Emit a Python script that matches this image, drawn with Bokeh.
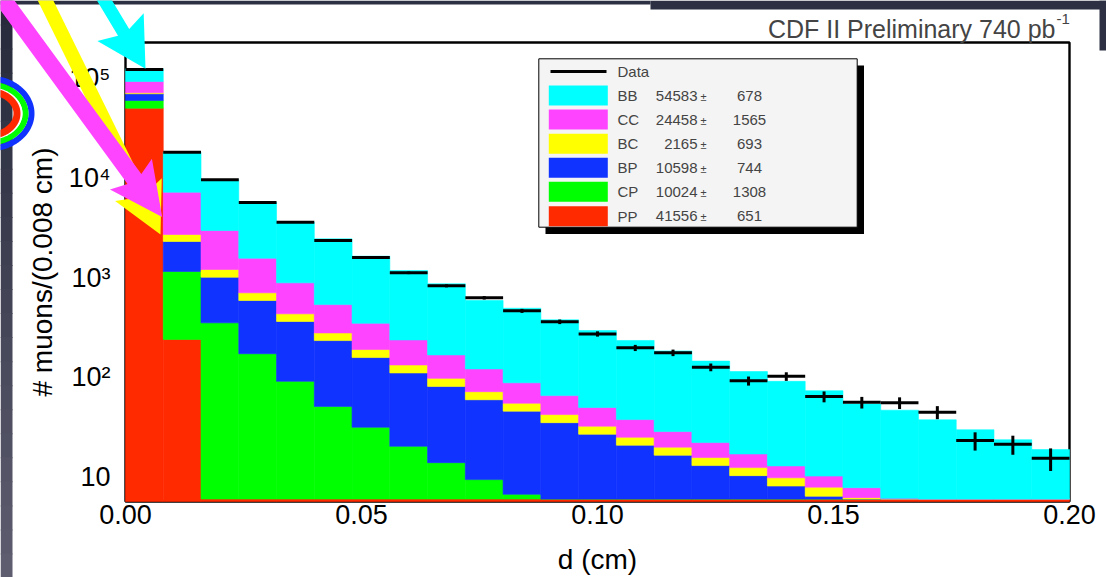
import numpy as np
from bokeh.plotting import figure
from bokeh.models import (Range1d, FixedTicker, NumeralTickFormatter, CustomJSTickFormatter,
                          BoxAnnotation, PolyAnnotation, Label)
from bokeh.embed import file_html
from bokeh.resources import INLINE

# ---------------- data ----------------
BIN_WIDTH = 0.008          # cm, from the axis title
N_BINS = 25
# stacked components, bottom -> top
pp = [49900, 239, 6, 6, 6, 6, 6, 6, 6, 6, 6, 6, 6, 6, 6, 6, 6, 6, 6, 6, 6, 6, 6, 6, 6]
cp = [9700, 910, 345, 166, 85, 45, 25.5, 14.3, 7.9, 3.4, 0.7, 0, 0, 0, 0, 0, 0, 0, 0, 0, 0, 0, 0, 0, 0]
bp = [10000, 1148, 656, 416, 271, 182, 126, 90, 67, 50, 39, 29, 20.8, 14.8, 10.5, 7.0, 4.3, 2.1, 0.4,
      0, 0, 0, 0, 0, 0]
bc = [1600, 403, 196, 114, 70, 45, 32, 22.4, 16.5, 12.2, 9.2, 7.2, 5.5, 4.2, 3.4, 2.65, 2.1, 1.7, 1.5,
      0.2, 0, 0, 0, 0, 0]
cc = [21200, 4472, 1757, 859, 452, 257, 158, 104, 70, 49.5, 33, 23.2, 17.4, 12.6, 8.6, 6.45, 4.6, 3.1,
      2.3, 1.6, 0.1, 0, 0, 0, 0]
bb = [31600, 10888, 6590, 4091, 2702, 1907, 1288, 938, 697, 467, 404, 311, 244, 196, 155, 123, 97, 78,
      63, 46, 40.6, 31.4, 23.7, 17.6, 12.8]
data_counts = [122000, 18060, 9550, 5652, 3587, 2350, 1587, 1115, 825, 626, 463, 360, 272, 197, 176,
               126, 92, 102, 64, 56, 55.4, 44.6, 23.2, 21.3, 15.4]

legend_names = ["BB", "CC", "BC", "BP", "CP", "PP"]
legend_yields = [54583, 24458, 2165, 10598, 10024, 41556]
legend_errors = [678, 1565, 693, 744, 1308, 651]

x_ticks = [0.0, 0.05, 0.10, 0.15, 0.20]
y_ticks = [10, 100, 1000, 10000, 100000]
X_MIN, X_MAX = 0.0, 0.2
Y_MIN, Y_MAX = 5.67, 2.275e5

colors = {"BB": "#00ffff", "CC": "#ff44ff", "BC": "#ffff00",
          "BP": "#1133ff", "CP": "#00ff00", "PP": "#ff2a00"}
stack = [("PP", pp), ("CP", cp), ("BP", bp), ("BC", bc), ("CC", cc), ("BB", bb)]

FONT = "Liberation Sans"

# ---------------- layout: the frame covers the whole canvas ----------------
W, H = 1106, 577
DL, DR, DT, DB = 125, 1069, 42, 501        # data area in canvas pixels
kx = (X_MAX - X_MIN) / (DR - DL)
ky = (np.log10(Y_MAX) - np.log10(Y_MIN)) / (DB - DT)
x_start, x_end = X_MIN - DL * kx, X_MAX + (W - DR) * kx
y_start = 10 ** (np.log10(Y_MIN) - (H - DB) * ky)
y_end = 10 ** (np.log10(Y_MAX) + DT * ky)

p = figure(width=W, height=H, title=None,
           x_range=Range1d(x_start, x_end), y_range=Range1d(y_start, y_end), y_axis_type="log",
           output_backend="svg", toolbar_location=None,
           min_border_left=0, min_border_right=0, min_border_top=0, min_border_bottom=0)
p.xgrid.visible = False
p.ygrid.visible = False
p.background_fill_color = "white"
p.border_fill_color = "white"
p.outline_line_color = None

# frame of the data area (under the histogram, as in the original)
p.add_layout(BoxAnnotation(left=X_MIN, right=X_MAX, bottom=Y_MIN, top=Y_MAX,
                           fill_color=None, fill_alpha=0, line_color="black", line_alpha=1,
                           line_width=2.4, level="underlay"))

edges = np.arange(N_BINS + 1) * BIN_WIDTH
left, right = edges[:-1], edges[1:]
centers = (left + right) / 2

cum = np.zeros(N_BINS)
for name, vals in stack:
    v = np.array(vals, dtype=float)
    bottom = np.maximum(cum, Y_MIN)
    top = np.maximum(cum + v, Y_MIN)
    p.quad(left=left, right=right, bottom=bottom, top=top,
           fill_color=colors[name], line_color=colors[name], line_width=0.6)
    cum = cum + v

d = np.array(data_counts, dtype=float)
err = np.sqrt(d)
p.segment(x0=left, x1=right, y0=d, y1=d, line_color="black", line_width=3)
p.segment(x0=centers, x1=centers, y0=d - err, y1=d + err, line_color="black", line_width=3)

# ---------------- axes (fixed at the data-area edges) ----------------
for ax in (p.xaxis[0], p.yaxis[0]):
    ax.axis_line_color = None
    ax.major_tick_line_color = None
    ax.minor_tick_line_color = None
    ax.major_tick_out = 0
    ax.major_tick_in = 0
    ax.major_label_text_font = FONT
    ax.major_label_text_font_size = "27px"
    ax.major_label_text_color = "black"
    ax.axis_label_text_font = FONT
    ax.axis_label_text_font_style = "normal"
    ax.axis_label_text_font_size = "28px"
    ax.axis_label_text_color = "black"

p.xaxis.fixed_location = Y_MIN
p.yaxis.fixed_location = X_MIN
p.xaxis.bounds = (X_MIN, X_MAX)
p.yaxis.bounds = (Y_MIN, Y_MAX)

p.xaxis.ticker = FixedTicker(ticks=x_ticks)
p.xaxis.formatter = NumeralTickFormatter(format="0.00")
p.xaxis.major_label_standoff = 3
p.xaxis.axis_label = "d (cm)"
p.xaxis.axis_label_standoff = 17

p.yaxis.ticker = FixedTicker(ticks=y_ticks, minor_ticks=[])
p.yaxis.formatter = CustomJSTickFormatter(code="""
const e = Math.round(Math.log10(tick));
const sup = ['\u2070','\u00b9','\u00b2','\u00b3','\u2074','\u2075','\u2076'];
return e == 1 ? '10' : '10' + sup[e];
""")
p.yaxis.major_label_standoff = 15
p.yaxis.axis_label = "# muons/(0.008 cm)"
p.yaxis.axis_label_standoff = 8

# ---------------- helpers for decorations (canvas px -> screen units) ----------------
def sx(X):
    return X

def sy(Y):
    return H - Y

def box(x0, y0, x1, y1, color, line=None, lw=1, level="annotation"):
    return BoxAnnotation(left=sx(x0), right=sx(x1), top=sy(y0), bottom=sy(y1),
                         left_units="screen", right_units="screen",
                         top_units="screen", bottom_units="screen",
                         fill_color=color, fill_alpha=1, line_color=line, line_alpha=1,
                         line_width=lw, level=level)

# background strips of the slide
n_steps = 24
c0 = np.array([0x26, 0x2a, 0x3a]); c1 = np.array([0x5e, 0x5d, 0x70])
for i in range(n_steps):
    t = i / (n_steps - 1)
    c = (c0 + (c1 - c0) * t).astype(int)
    col = "#%02x%02x%02x" % tuple(c)
    p.add_layout(box(0, i * H / n_steps, 12, (i + 1) * H / n_steps + 1, col, level="underlay"))
p.add_layout(box(0, 0, 650, 4, "#2c3042", level="underlay"))
p.add_layout(box(650, 0, W, 9, "#2c3042", level="underlay"))
p.add_layout(box(1099, 0, W, 50, "#2c3042", level="underlay"))

# ---------------- legend box ----------------
p.add_layout(box(545, 65, 863.5, 233.5, "black"))
p.add_layout(box(538.3, 58.3, 856.7, 226.7, "#f4f4f4", line="black", lw=1))
p.add_layout(box(550, 69.5, 606, 72.5, "black"))
p.add_layout(Label(x=sx(617), y=sy(71), x_units="screen", y_units="screen", text="Data",
                   text_font=FONT, text_font_size="15px", text_baseline="middle", text_align="left"))
row_y = [95, 119, 143.3, 167.3, 191.3, 215.7]
for name, yld, er, ry in zip(legend_names, legend_yields, legend_errors, row_y):
    p.add_layout(box(548.3, ry - 10, 607.3, ry + 10, colors[name]))
    p.add_layout(Label(x=sx(617), y=sy(ry), x_units="screen", y_units="screen", text=name,
                       text_font=FONT, text_font_size="15px", text_baseline="middle", text_align="left"))
    p.add_layout(Label(x=sx(697), y=sy(ry), x_units="screen", y_units="screen", text=str(yld),
                       text_font=FONT, text_font_size="15px", text_baseline="middle", text_align="right"))
    p.add_layout(Label(x=sx(700), y=sy(ry + 1), x_units="screen", y_units="screen", text="\u00b1",
                       text_font=FONT, text_font_size="11px", text_baseline="middle", text_align="left"))
    p.add_layout(Label(x=sx(749), y=sy(ry), x_units="screen", y_units="screen", text=str(er),
                       text_font=FONT, text_font_size="15px", text_baseline="middle", text_align="center"))

# ---------------- header text ----------------
p.add_layout(Label(x=sx(1055), y=sy(28), x_units="screen", y_units="screen",
                   text="CDF II Preliminary 740 pb", text_font=FONT, text_font_size="25px",
                   text_baseline="alphabetic", text_align="right"))
p.add_layout(Label(x=sx(1056), y=sy(18), x_units="screen", y_units="screen",
                   text="-1", text_font=FONT, text_font_size="15px",
                   text_baseline="alphabetic", text_align="left"))

# ---------------- slide annotations: ellipses and arrows ----------------
tt = np.linspace(0, 2 * np.pi, 120)
for color, rx, ry, lw in [("#1133ff", 43, 35, 6), ("#00ff00", 37, 29, 6),
                          ("#ffffff", 33, 25.5, 2), ("#ff2a00", 28.5, 22, 7)]:
    ex = -12 + rx * np.cos(tt)
    ey = 113 + ry * np.sin(tt)
    p.add_layout(PolyAnnotation(xs=[sx(v) for v in ex], ys=[sy(v) for v in ey],
                                xs_units="screen", ys_units="screen",
                                fill_color=None, fill_alpha=0, line_color=color, line_alpha=1,
                                line_width=lw, level="annotation"))


def arrow(start, tip, w, head_len, head_half, notch, color):
    s = np.array(start, float); tp = np.array(tip, float)
    dv = (tp - s) / np.linalg.norm(tp - s)
    n = np.array([-dv[1], dv[0]])
    base = tp - dv * head_len
    join = base + dv * notch
    pts = [s + n * w / 2, join + n * w / 2, base + n * head_half, tp,
           base - n * head_half, join - n * w / 2, s - n * w / 2]
    p.add_layout(PolyAnnotation(xs=[sx(q[0]) for q in pts], ys=[sy(q[1]) for q in pts],
                                xs_units="screen", ys_units="screen",
                                fill_color=color, fill_alpha=1, line_color=None, level="overlay"))

arrow((98.0, -10.0), (145.0, 68.3), 13, 48.5, 27, 6, "#00ffff")
arrow((40.1, -10.0), (160.0, 234.0), 14, 50, 26, 6, "#ffff00")
arrow((-3.9, -10.0), (161.7, 216.5), 17, 53, 26, 6, "#ff44ff")

open("out.html", "w").write(file_html(p, INLINE))
